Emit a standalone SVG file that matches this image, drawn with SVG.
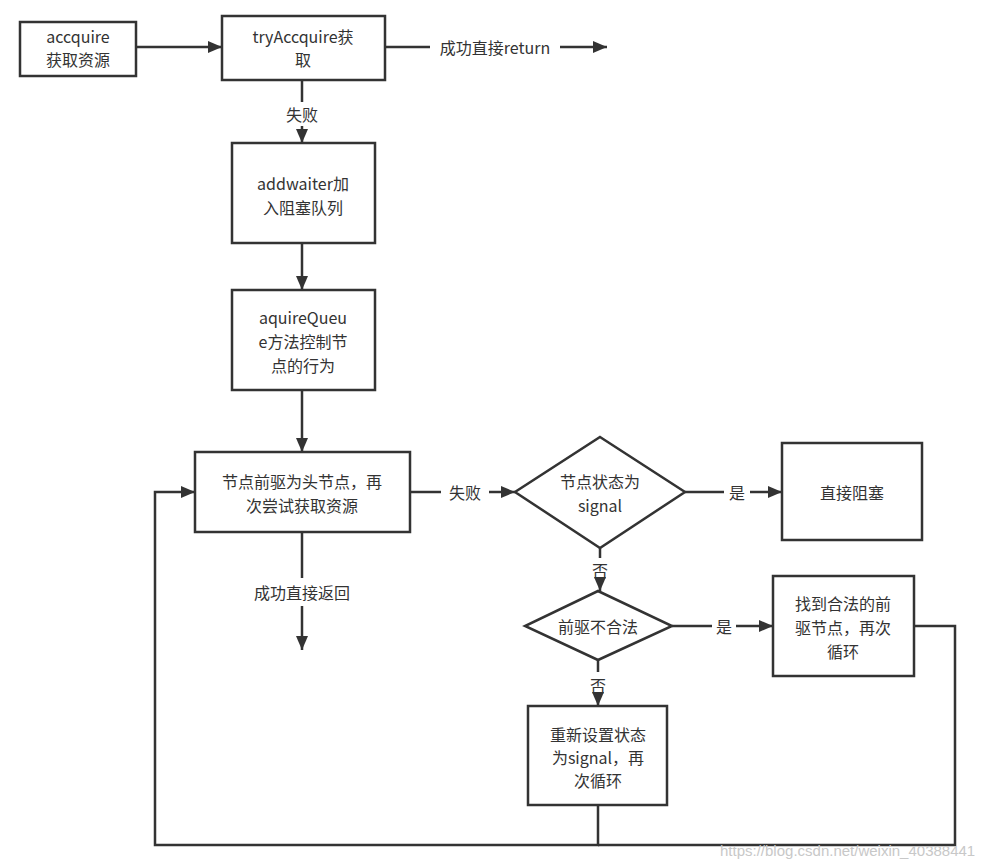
<svg xmlns="http://www.w3.org/2000/svg" width="994" height="868" viewBox="0 0 994 868">
<defs>
<marker id="arr" viewBox="0 0 14 12" refX="14" refY="6" markerWidth="14" markerHeight="12" markerUnits="userSpaceOnUse" orient="auto">
<path d="M0,0 L14,6 L0,12 Z" fill="#333"/>
</marker>
<style>
.box{fill:#fff;stroke:#333;stroke-width:2.5}
.t{font-family:"Noto Sans CJK SC","Open Sans",sans-serif;font-size:16px;fill:#333;text-anchor:middle;dominant-baseline:central}
.ln{fill:none;stroke:#333;stroke-width:2.5}
.lbl{font-family:"Noto Sans CJK SC","Open Sans",sans-serif;font-size:16px;fill:#333;text-anchor:middle;dominant-baseline:central}
.wm{font-family:"Liberation Sans",sans-serif;font-size:15px;fill:#c8c8c8}
</style>
</defs>
<rect width="994" height="868" fill="#fff"/>
<g id="connectors">
<line class="ln" x1="136" y1="47" x2="222" y2="47" marker-end="url(#arr)"/>
<line class="ln" x1="385" y1="47" x2="430" y2="47"/>
<line class="ln" x1="560" y1="47" x2="607" y2="47" marker-end="url(#arr)"/>
<line class="ln" x1="302" y1="80" x2="302" y2="102"/>
<line class="ln" x1="302" y1="126" x2="302" y2="143" marker-end="url(#arr)"/>
<line class="ln" x1="302" y1="243" x2="302" y2="290" marker-end="url(#arr)"/>
<line class="ln" x1="302" y1="390" x2="302" y2="452" marker-end="url(#arr)"/>
<line class="ln" x1="410" y1="492" x2="441" y2="492"/>
<line class="ln" x1="489" y1="492" x2="515" y2="492" marker-end="url(#arr)"/>
<line class="ln" x1="685" y1="492" x2="724" y2="492"/>
<line class="ln" x1="750" y1="492" x2="782" y2="492" marker-end="url(#arr)"/>
<line class="ln" x1="600" y1="548" x2="600" y2="558"/>
<line class="ln" x1="600" y1="582" x2="600" y2="591" marker-end="url(#arr)"/>
<line class="ln" x1="672" y1="626" x2="712" y2="626"/>
<line class="ln" x1="736" y1="626" x2="773" y2="626" marker-end="url(#arr)"/>
<line class="ln" x1="598" y1="660" x2="598" y2="672"/>
<line class="ln" x1="598" y1="697" x2="598" y2="706" marker-end="url(#arr)"/>
<line class="ln" x1="302" y1="532" x2="302" y2="578"/>
<line class="ln" x1="302" y1="606" x2="302" y2="650" marker-end="url(#arr)"/>
<polyline class="ln" points="598,805 598,845 155,845 155,492 195,492" marker-end="url(#arr)"/>
<polyline class="ln" points="914,626 955,626 955,845 598,845"/>
<text class="lbl" x="495" y="47">成功直接return</text>
<text class="lbl" x="302" y="114">失败</text>
<text class="lbl" x="465" y="492">失败</text>
<text class="lbl" x="737" y="492">是</text>
<text class="lbl" x="600" y="570">否</text>
<text class="lbl" x="724" y="626">是</text>
<text class="lbl" x="598" y="685">否</text>
<text class="lbl" x="302" y="592">成功直接返回</text>
</g>
<g id="n1"><rect class="box" x="20" y="22" width="116" height="54"/><text class="t" x="78" y="36">accquire</text><text class="t" x="78" y="59">获取资源</text></g>
<g id="n2"><rect class="box" x="222" y="16" width="163" height="64"/><text class="t" x="303" y="36">tryAccquire获</text><text class="t" x="303" y="59">取</text></g>
<g id="n3"><rect class="box" x="232" y="143" width="143" height="100"/><text class="t" x="303" y="183">addwaiter加</text><text class="t" x="303" y="207">入阻塞队列</text></g>
<g id="n4"><rect class="box" x="232" y="290" width="143" height="100"/><text class="t" x="303" y="317">aquireQueu</text><text class="t" x="303" y="341">e方法控制节</text><text class="t" x="303" y="365">点的行为</text></g>
<g id="n5"><rect class="box" x="195" y="452" width="215" height="80"/><text class="t" x="302" y="481">节点前驱为头节点，再</text><text class="t" x="302" y="505">次尝试获取资源</text></g>
<g id="d1"><polygon class="box" points="600,437 685,492 600,548 515,492"/><text class="t" x="600" y="481">节点状态为</text><text class="t" x="600" y="505">signal</text></g>
<g id="n6"><rect class="box" x="782" y="443" width="140" height="97"/><text class="t" x="852" y="492">直接阻塞</text></g>
<g id="d2"><polygon class="box" points="598,591 672,626 598,660 525,626"/><text class="t" x="598" y="626">前驱不合法</text></g>
<g id="n7"><rect class="box" x="773" y="576" width="141" height="100"/><text class="t" x="843" y="603">找到合法的前</text><text class="t" x="843" y="627">驱节点，再次</text><text class="t" x="843" y="651">循环</text></g>
<g id="n8"><rect class="box" x="528" y="706" width="139" height="99"/><text class="t" x="598" y="734">重新设置状态</text><text class="t" x="598" y="757">为signal，再</text><text class="t" x="598" y="780">次循环</text></g>
<text class="wm" x="720" y="856">https://blog.csdn.net/weixin_40388441</text>
</svg>
